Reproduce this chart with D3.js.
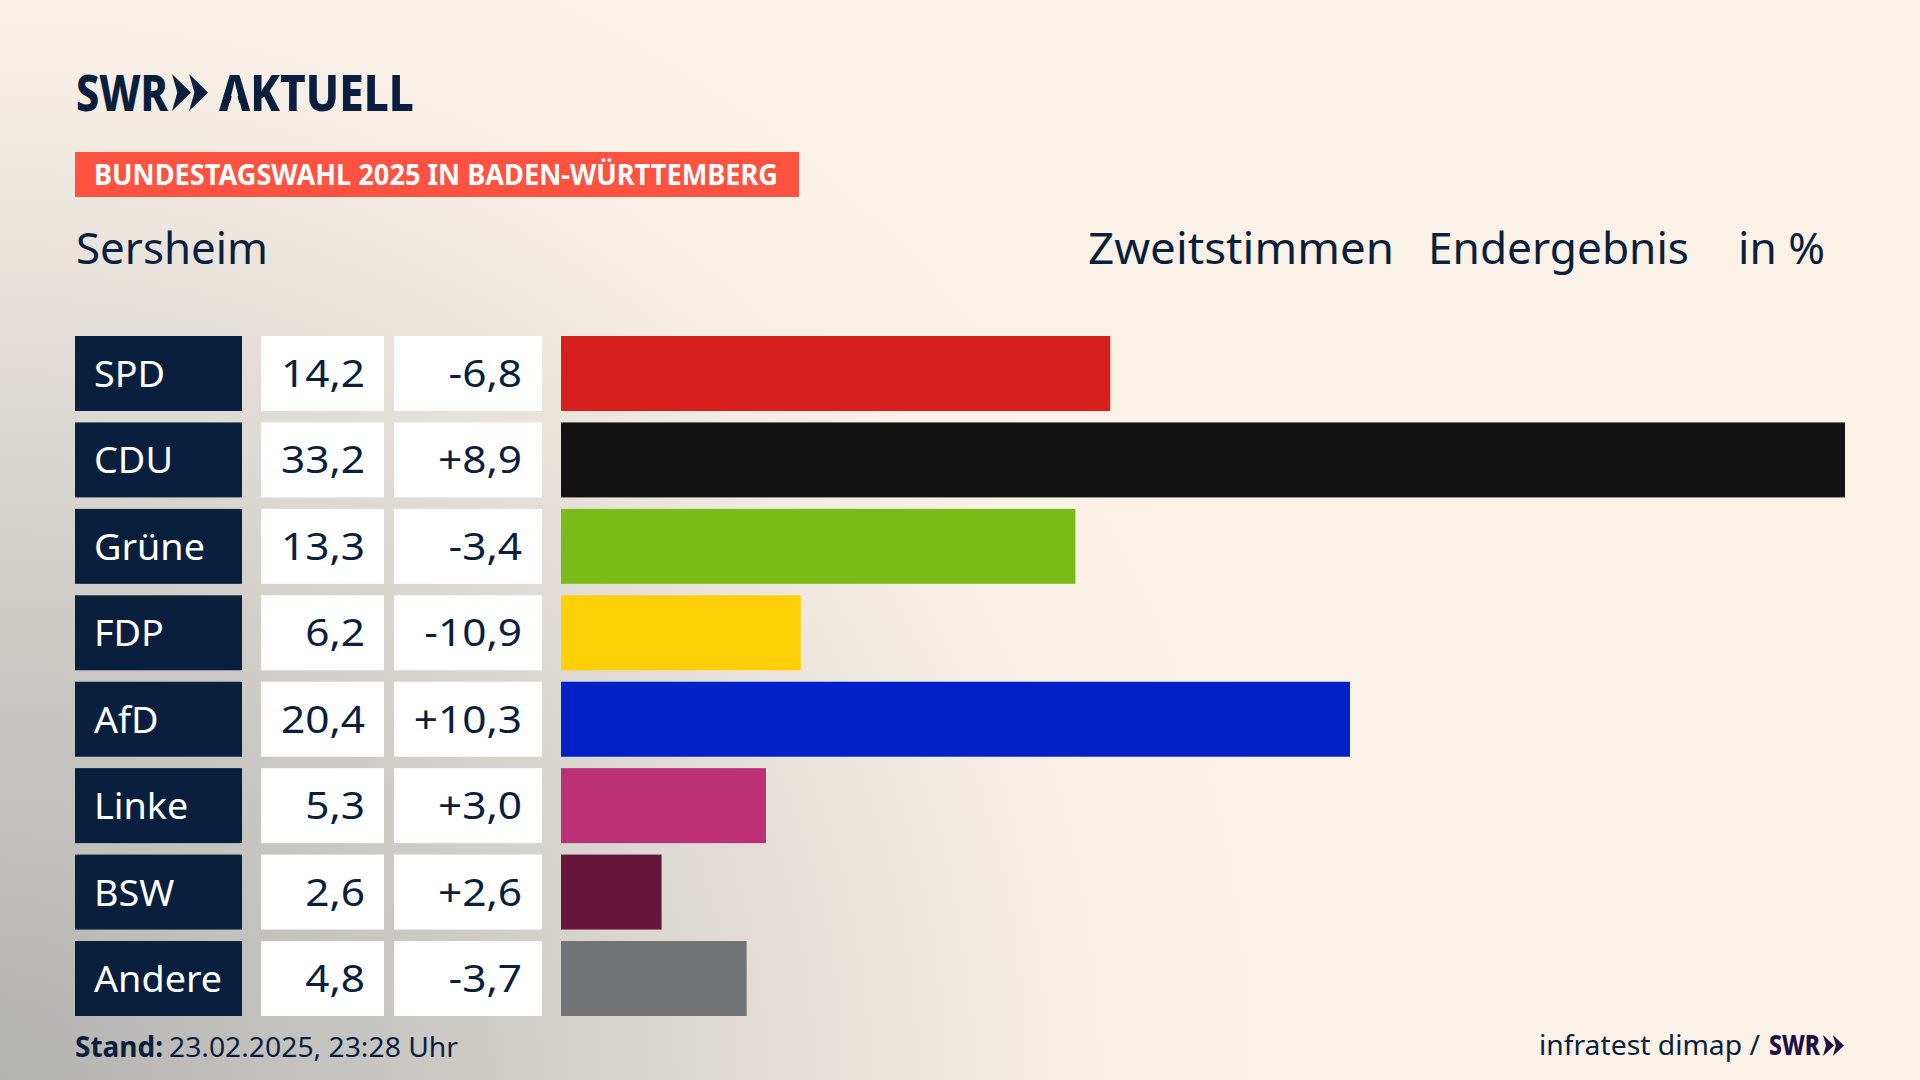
<!DOCTYPE html>
<html lang="de">
<head>
<meta charset="utf-8">
<title>Bundestagswahl 2025 Sersheim</title>
<script src="https://d3js.org/d3.v7.min.js"></script>
<style>
  html, body { margin: 0; padding: 0; background: #faf1e7; }
  svg { display: block; }
  text { font-family: "Noto Sans", sans-serif; }
</style>
</head>
<body>
<svg id="chart" width="1920" height="1080"></svg>
<script>
// Werte aus der Grafik
const parteien = ["SPD", "CDU", "Grüne", "FDP", "AfD", "Linke", "BSW", "Andere"];
const ergebnis = [14.2, 33.2, 13.3, 6.2, 20.4, 5.3, 2.6, 4.8];
const differenz = [-6.8, 8.9, -3.4, -10.9, 10.3, 3.0, 2.6, -3.7];
const farben = ["#d71f1d", "#121212", "#7abc17", "#ffcf08", "#0020c8", "#bc3075", "#661739", "#727374"];

const navy = "#0a1f3d";
const width = 1920, height = 1080;

const svg = d3.select("#chart");
const defs = svg.append("defs");

// Hintergrund
const grad = defs.append("radialGradient")
    .attr("id", "bg")
    .attr("gradientUnits", "userSpaceOnUse")
    .attr("cx", 0).attr("cy", 0).attr("r", 1)
    .attr("gradientTransform", "translate(0,1080) scale(1300,1250)");
[[0, "#b3b3b1"], [0.3, "#c8c6c2"], [0.48, "#d8d5cf"], [0.62, "#e4dfd8"], [0.77, "#f3ece3"], [0.88, "#f9f0e6"], [1, "#faf1e7"]].forEach(s => {
  grad.append("stop").attr("offset", s[0]).attr("stop-color", s[1]);
});
svg.append("rect").attr("width", width).attr("height", height).attr("fill", "url(#bg)");

// Text mit fester Breite
function label(x, y, txt, size, w, opts) {
  opts = opts || {};
  const t = svg.append("text")
      .attr("x", x).attr("y", y)
      .attr("font-size", size)
      .attr("font-weight", opts.weight || 400)
      .attr("fill", opts.fill || navy)
      .text(txt);
  if (w) t.attr("textLength", w).attr("lengthAdjust", "spacingAndGlyphs");
  return t;
}

function chevrons(x, y, w, h, fill) {
  const c = w * 0.5;
  [0, w * 0.45].forEach(dx => {
    svg.append("path")
      .attr("fill", fill)
      .attr("d", d3.line()([
        [x + dx, y], [x + dx + c, y + h / 2], [x + dx, y + h],
        [x + dx + c * 0.28, y + h / 2]
      ]) + "Z");
  });
}

// Kopf
label(76, 111, "SWR", 50, 92, {weight: 800});
chevrons(172, 74, 38, 37, navy);
const aktuell = label(219, 111, "AKTUELL", 50, 195, {weight: 800});

// Logo: das A hat keinen Querstrich
const boxA = aktuell.node().getExtentOfChar(0);
const mitteA = boxA.x + boxA.width / 2;
const maske = defs.append("mask").attr("id", "ohneQuerstrich")
    .attr("maskUnits", "userSpaceOnUse")
    .attr("x", 0).attr("y", 0).attr("width", width).attr("height", height);
maske.append("rect").attr("width", width).attr("height", height).attr("fill", "#fff");
maske.append("path").attr("fill", "#000")
    .attr("d", d3.line()([[mitteA, 85], [mitteA - 7, 112], [mitteA + 7, 112]]) + "Z");
aktuell.attr("mask", "url(#ohneQuerstrich)");

svg.append("rect").attr("x", 75).attr("y", 152).attr("width", 724).attr("height", 45).attr("fill", "#ff5240");
label(94, 185, "BUNDESTAGSWAHL 2025 IN BADEN-WÜRTTEMBERG", 28, 684, {weight: 700, fill: "#fff"});

label(76, 264, "Sersheim", 44, 192);
label(1088, 264, "Zweitstimmen", 44, 306);
label(1428, 264, "Endergebnis", 44, 261);
label(1738, 264, "in %", 44, 87);

// Skalen
const y = d3.scaleBand().domain(parteien).range([336, 1016]).paddingInner(0.1323);
const x = d3.scaleLinear().domain([0, 33.2]).range([561, 1845]);

const rows = parteien.map((p, i) => ({p, wert: ergebnis[i], diff: differenz[i], farbe: farben[i]}));
const komma = v => d3.format(".1f")(Math.abs(v)).replace(".", ",");

const row = svg.selectAll("g.row").data(rows).join("g")
    .attr("class", "row")
    .attr("transform", d => `translate(0,${y(d.p)})`);

row.append("rect").attr("x", 75).attr("width", 167).attr("height", y.bandwidth()).attr("fill", navy);
row.append("rect").attr("x", 261).attr("width", 123).attr("height", y.bandwidth()).attr("fill", "#fff");
row.append("rect").attr("x", 394).attr("width", 148).attr("height", y.bandwidth()).attr("fill", "#fff");
row.append("rect")
    .attr("x", x(0))
    .attr("width", d => x(d.wert) - x(0))
    .attr("height", y.bandwidth())
    .attr("fill", d => d.farbe);

row.append("text")
    .attr("transform", "translate(94,51) scale(1.02,1)")
    .attr("font-size", 37).attr("fill", "#fff")
    .text(d => d.p);
row.append("text")
    .attr("transform", "translate(365,51) scale(1.116,1)")
    .attr("text-anchor", "end").attr("font-size", 38).attr("fill", navy)
    .text(d => komma(d.wert));
row.append("text")
    .attr("transform", "translate(522,51) scale(1.116,1)")
    .attr("text-anchor", "end").attr("font-size", 38).attr("fill", navy)
    .text(d => (d.diff < 0 ? "-" : "+") + komma(d.diff));

// Fuss
label(75, 1057, "Stand:", 28, 88, {weight: 700});
label(169, 1057, "23.02.2025, 23:28 Uhr", 28, 289);
label(1539, 1055, "infratest dimap /", 28, 221);
label(1769, 1055, "SWR", 28, 51, {weight: 800, fill: "#1f0f42"});
chevrons(1823, 1035, 22, 21, "#1f0f42");
</script>
</body>
</html>
